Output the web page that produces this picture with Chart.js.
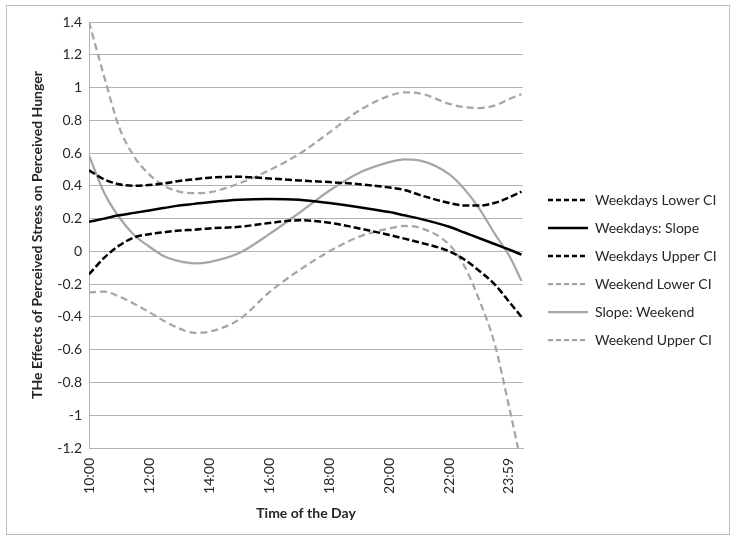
<!DOCTYPE html>
<html>
<head>
<meta charset="utf-8">
<script src="https://cdn.jsdelivr.net/npm/chart.js@4.4.1/dist/chart.umd.min.js"></script>
<style>
  html, body { margin: 0; padding: 0; background: #ffffff; }
  #wrap { position: relative; width: 735px; height: 540px; }
  #frame { position: absolute; left: 6px; top: 5px; width: 722px; height: 528px; border: 1px solid #bdbdbd; }
  #chart { position: absolute; left: 0; top: 0; }
</style>
</head>
<body>
<div id="wrap">
  <div id="frame"></div>
  <canvas id="chart" width="735" height="540"></canvas>
</div>
<script>
// ===== DADOS =====

// horas do dia em que as curvas foram lidas
const hours = [10, 10.5, 11, 11.5, 12, 12.5, 13, 13.5, 14, 15, 16, 17, 18, 19, 20, 20.5, 21, 22, 22.5, 23, 23.5, 24, 24.4];

const weekdaysLowerCI = [0.495, 0.44, 0.41, 0.40, 0.405, 0.415, 0.43, 0.44, 0.45, 0.455, 0.445, 0.433, 0.423, 0.41, 0.39, 0.375, 0.345, 0.295, 0.28, 0.28, 0.295, 0.33, 0.365];
const weekdaysSlope   = [0.18, 0.20, 0.22, 0.235, 0.25, 0.265, 0.28, 0.29, 0.30, 0.315, 0.32, 0.315, 0.295, 0.27, 0.24, 0.22, 0.20, 0.15, 0.115, 0.08, 0.045, 0.01, -0.02];
const weekdaysUpperCI = [-0.14, -0.04, 0.035, 0.085, 0.105, 0.117, 0.127, 0.132, 0.14, 0.15, 0.173, 0.19, 0.175, 0.14, 0.10, 0.078, 0.055, 0.0, -0.05, -0.12, -0.2, -0.31, -0.4];
const weekendLowerCI  = [1.40, 1.07, 0.76, 0.58, 0.47, 0.40, 0.365, 0.355, 0.36, 0.415, 0.495, 0.595, 0.725, 0.86, 0.95, 0.97, 0.965, 0.90, 0.88, 0.875, 0.89, 0.93, 0.96];
const weekendSlope    = [0.586, 0.36, 0.21, 0.10, 0.03, -0.03, -0.06, -0.073, -0.065, -0.01, 0.105, 0.235, 0.37, 0.48, 0.545, 0.562, 0.555, 0.47, 0.38, 0.26, 0.11, -0.03, -0.18];
const weekendUpperCI  = [-0.25, -0.245, -0.275, -0.32, -0.37, -0.425, -0.47, -0.497, -0.49, -0.415, -0.25, -0.115, 0.0, 0.09, 0.14, 0.155, 0.145, 0.04, -0.09, -0.30, -0.56, -0.96, -1.3];

// marcas do eixo X
const tickHours  = [10, 12, 14, 16, 18, 20, 22, 23 + 59 / 60];
const tickLabels = ['10:00', '12:00', '14:00', '16:00', '18:00', '20:00', '22:00', '23:59'];

// ===== CONFIGURAÇÃO =====

const BLACK = '#000000';
const GREY = '#a6a6a6';
const TEXT = '#262626';
const FONT = 'Lato';

const toPoints = (values) => values.map((v, i) => ({ x: hours[i], y: v }));

const makeDataset = (label, values, color, dash, width) => ({
    label: label,
    data: toPoints(values),
    borderColor: color,
    backgroundColor: color,
    borderWidth: width,
    borderDash: dash,
    pointRadius: 0,
    pointHoverRadius: 0,
    fill: false,
    cubicInterpolationMode: 'monotone'
});

const datasets = [
    makeDataset('Weekdays Lower CI', weekdaysLowerCI, BLACK, [7, 3], 2.5),
    makeDataset('Weekdays: Slope', weekdaysSlope, BLACK, [], 2.5),
    makeDataset('Weekdays Upper CI', weekdaysUpperCI, BLACK, [7, 3], 2.5),
    makeDataset('Weekend Lower CI', weekendLowerCI, GREY, [7, 4], 2.25),
    makeDataset('Slope: Weekend', weekendSlope, GREY, [], 2.25),
    makeDataset('Weekend Upper CI', weekendUpperCI, GREY, [7, 4], 2.25)
];

// legenda com o traço de cada série (o padrão não copia o tracejado)
const legendLabels = (chart) => chart.data.datasets.map((ds, i) => ({
    text: ds.label,
    datasetIndex: i,
    strokeStyle: ds.borderColor,
    fillStyle: ds.borderColor,
    lineWidth: ds.borderWidth,
    lineDash: ds.borderDash.length ? [5, 3] : [],
    lineCap: 'butt',
    pointStyle: 'line',
    fontColor: TEXT,
    hidden: false
}));

// posiciona a legenda como no original
const legendPlacement = {
    id: 'legendPlacement',
    afterInit(chart) {
        const legend = chart.legend;
        const fit = legend.fit;
        legend.fit = function () {
            fit.call(this);
            this.width = 212;
        };
    },
    afterLayout(chart) {
        const legend = chart.legend;
        legend.left += 11;
        legend.right += 11;
        legend.top -= 11;
        legend.bottom -= 11;
    }
};

new Chart(document.getElementById('chart'), {
    type: 'line',
    data: { datasets: datasets },
    plugins: [legendPlacement],
    options: {
        responsive: false,
        animation: false,
        layout: { padding: { top: 22, right: 0, bottom: 0, left: 0 } },
        plugins: {
            tooltip: { enabled: false },
            legend: {
                position: 'right',
                labels: {
                    usePointStyle: true,
                    pointStyle: 'line',
                    pointStyleWidth: 40,
                    boxHeight: 14,
                    padding: 14,
                    color: TEXT,
                    font: { family: FONT, size: 14 },
                    generateLabels: legendLabels
                }
            }
        },
        scales: {
            x: {
                type: 'linear',
                min: 10,
                max: 24.45,
                afterBuildTicks: (scale) => {
                    scale.ticks = tickHours.map(h => ({ value: h }));
                },
                afterFit: (scale) => { scale.height = 92; },
                grid: { display: false, drawTicks: false },
                border: { display: true, color: '#b3b3b3' },
                ticks: {
                    autoSkip: false,
                    minRotation: 90,
                    maxRotation: 90,
                    padding: 10,
                    color: TEXT,
                    font: { family: FONT, size: 14 },
                    callback: (value, index) => tickLabels[index]
                },
                title: {
                    display: true,
                    text: 'Time of the Day',
                    color: TEXT,
                    font: { family: FONT, size: 14, weight: 'bold' },
                    padding: { top: 0, bottom: 18 }
                }
            },
            y: {
                min: -1.2,
                max: 1.4,
                afterFit: (scale) => { scale.width = 89; },
                grid: { color: '#b3b3b3', lineWidth: 1, drawTicks: false },
                border: { display: true, color: '#b3b3b3' },
                ticks: {
                    stepSize: 0.2,
                    padding: 7,
                    color: TEXT,
                    font: { family: FONT, size: 14 },
                    callback: (value) => String(Math.round(value * 10) / 10)
                },
                title: {
                    display: true,
                    text: 'THe Effects of Perceived Stress on Perceived Hunger',
                    color: TEXT,
                    font: { family: FONT, size: 14, weight: 'bold' },
                    padding: { top: 29, bottom: 0 }
                }
            }
        }
    }
});
</script>
</body>
</html>
